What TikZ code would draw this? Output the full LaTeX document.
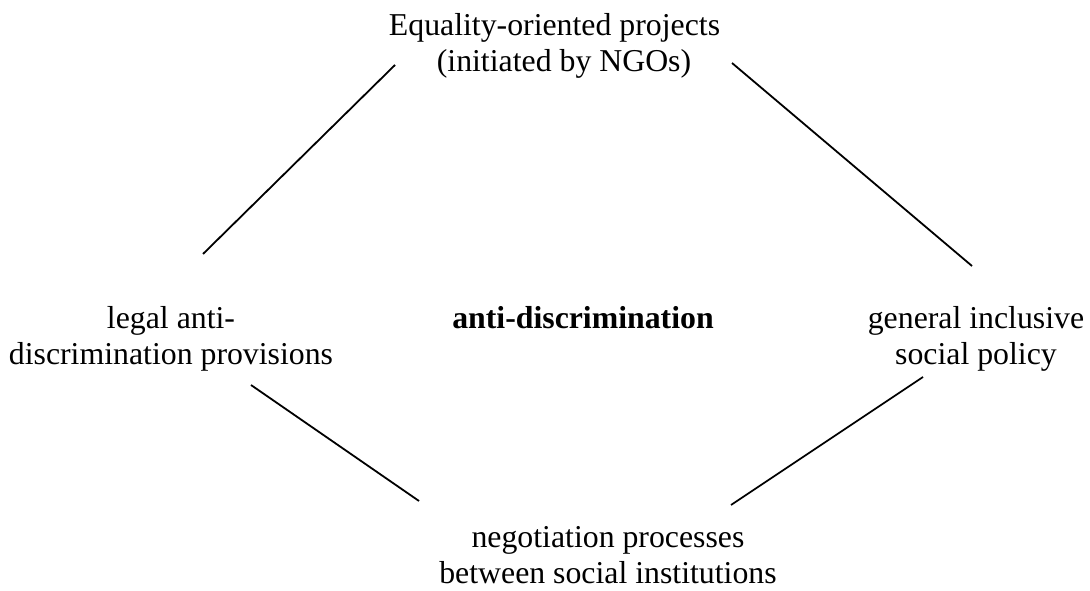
\documentclass[tikz,border=0pt]{standalone}
\usepackage{fontspec}
\setmainfont{Liberation Serif}
\begin{document}
\begin{tikzpicture}[x=1pt,y=1pt,
  lbl/.style={inner sep=0pt, anchor=base, align=center, font=\fontsize{31.8}{36}\selectfont},
  link/.style={line width=1.8pt, line cap=butt}]
\useasboundingbox (0,0) rectangle (1090,591);
\node[lbl] (top) at (554.5,519) {Equality-oriented projects\\\hspace*{19pt}(initiated by NGOs)};
\node[lbl] (left) at (171,226) {legal anti-\\discrimination provisions};
\node[lbl, font=\fontsize{31.8}{36}\selectfont\bfseries] (center) at (583,262) {anti-discrimination};
\node[lbl] (right) at (976,226) {general inclusive\\social policy};
\node[lbl] (bottom) at (608,7) {negotiation processes\\between social institutions};
\coordinate (tl1) at (203,337);
\coordinate (tl2) at (395,526);
\coordinate (tr1) at (732,528);
\coordinate (tr2) at (972,325);
\coordinate (bl1) at (251,206);
\coordinate (bl2) at (419,90);
\coordinate (br1) at (923,214);
\coordinate (br2) at (731,86);
\draw[link] (tl1) -- (tl2);
\draw[link] (tr1) -- (tr2);
\draw[link] (bl1) -- (bl2);
\draw[link] (br1) -- (br2);
\end{tikzpicture}
\end{document}
